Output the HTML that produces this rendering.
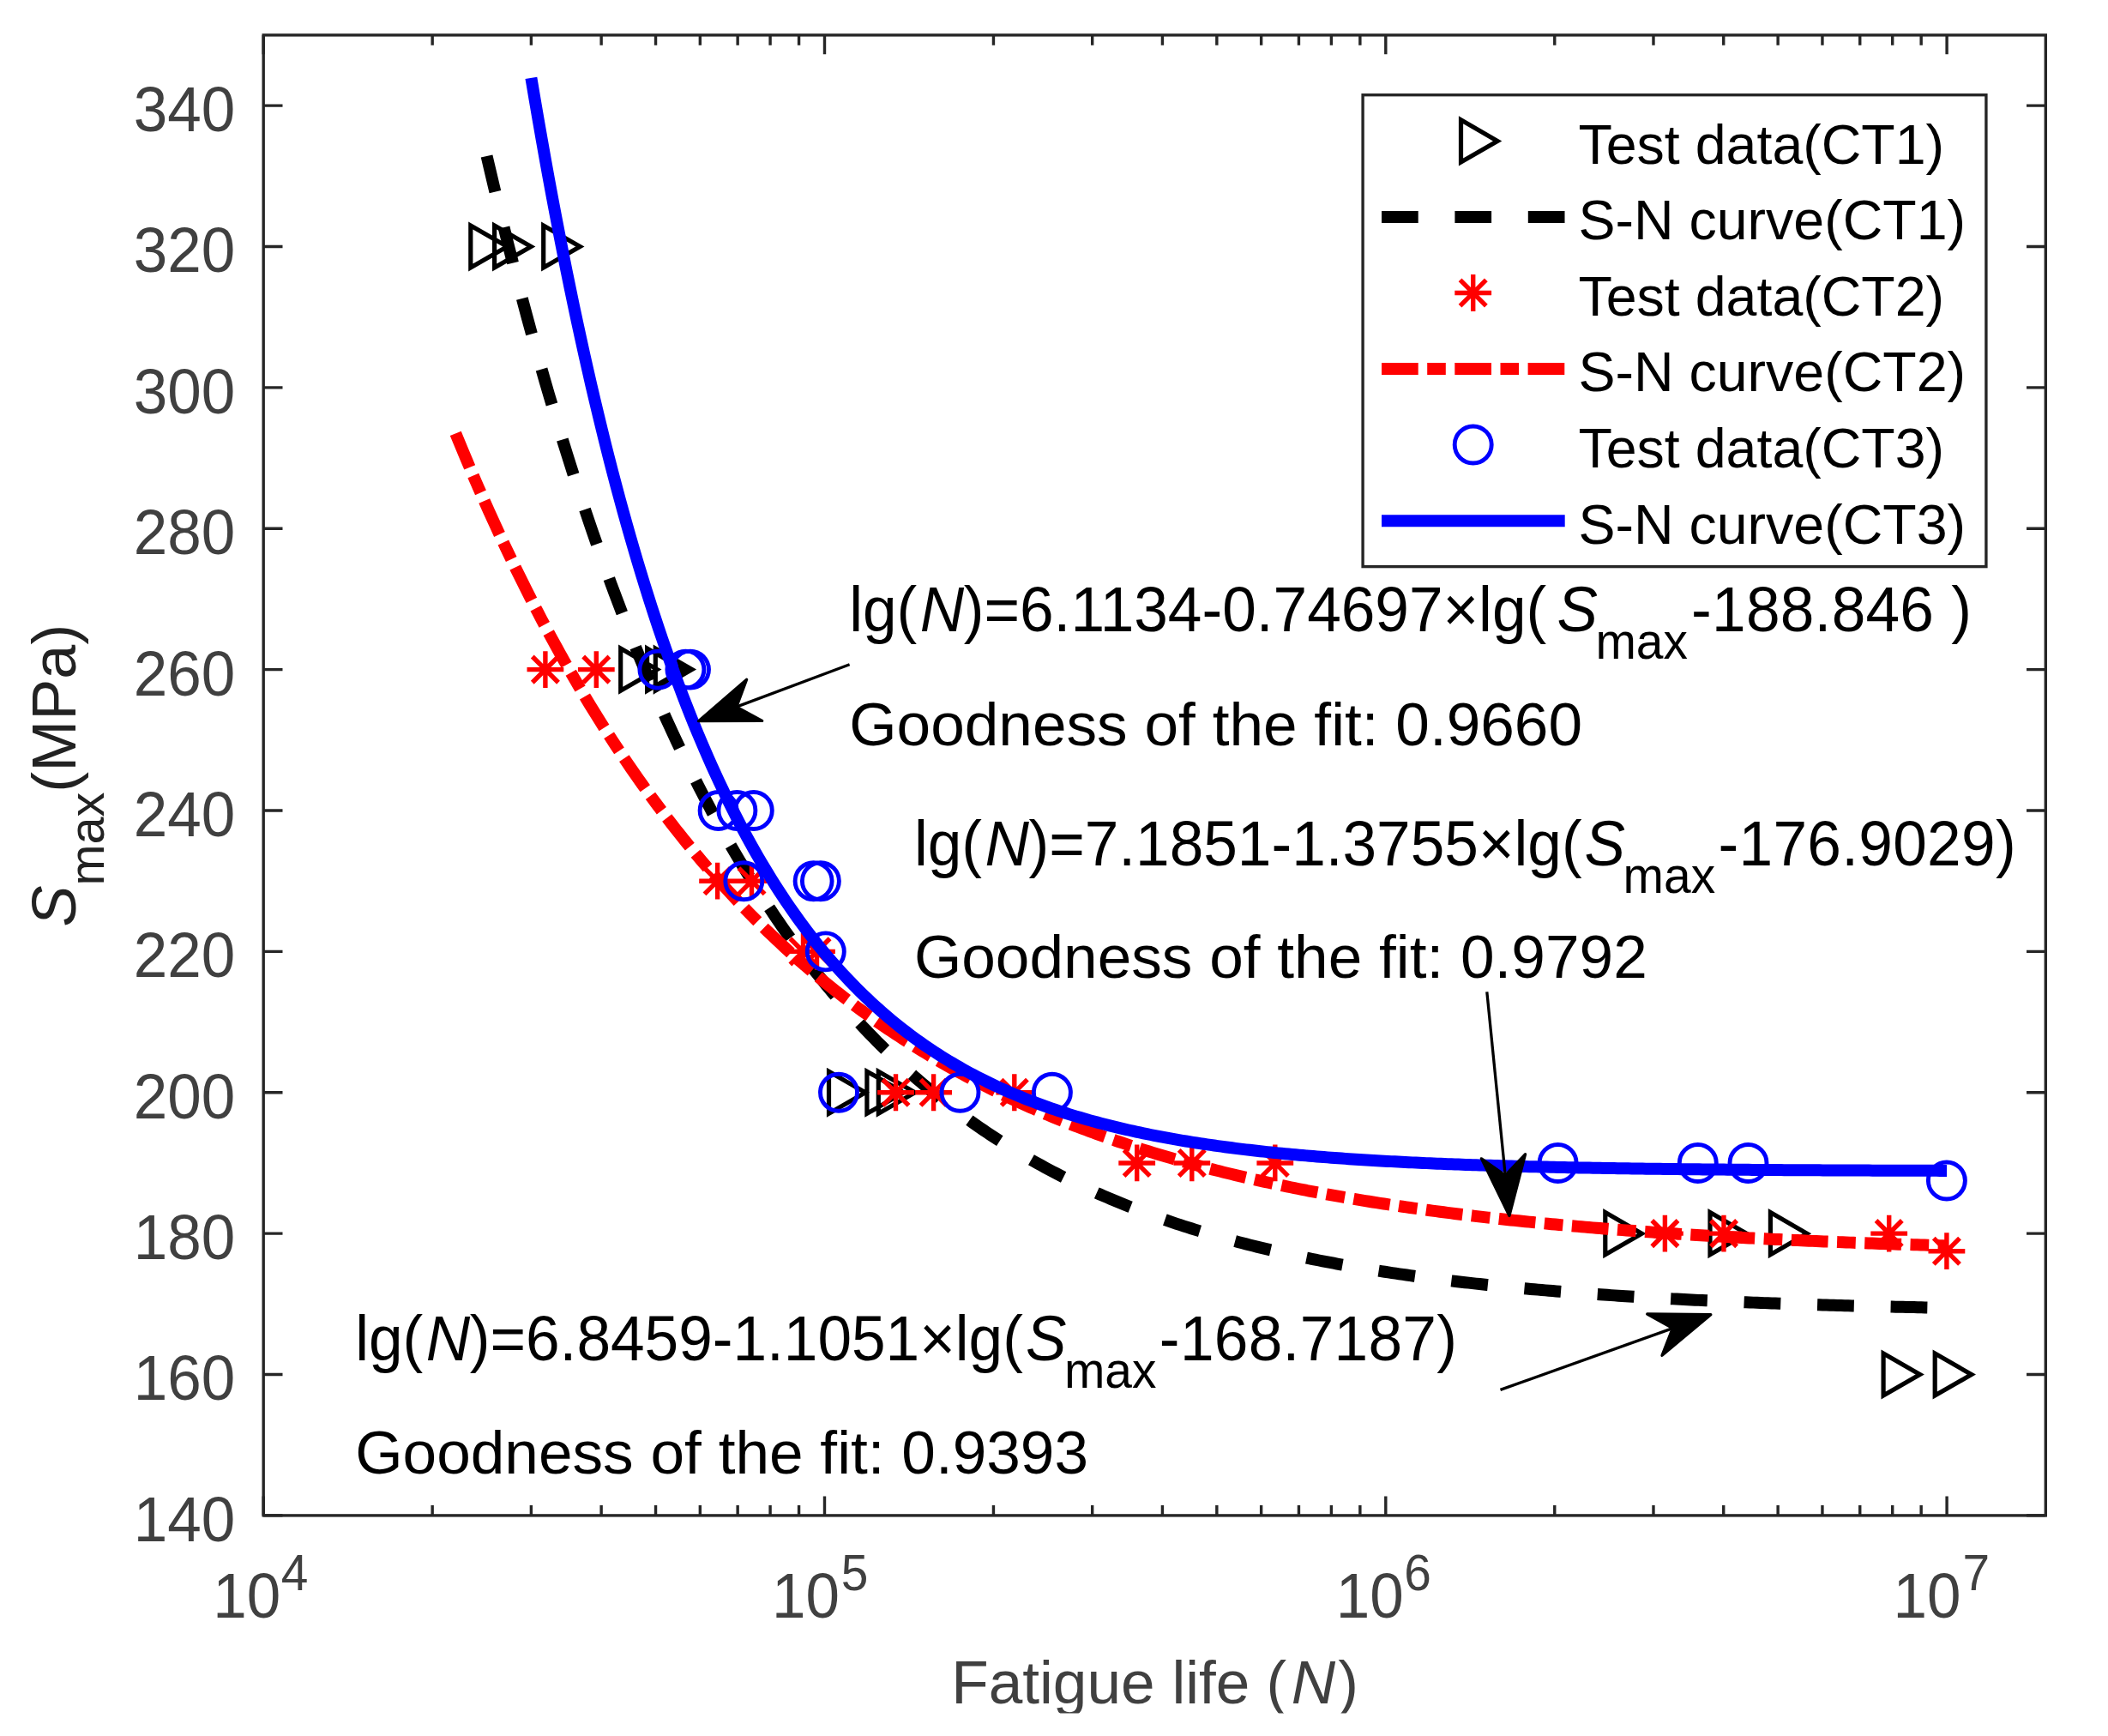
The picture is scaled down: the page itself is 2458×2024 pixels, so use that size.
<!DOCTYPE html>
<html lang="en"><head><meta charset="utf-8"><title>S-N curves</title>
<style>html,body{margin:0;padding:0;background:#fff}svg{display:block}text{font-family:'Liberation Sans', sans-serif}</style></head><body>
<svg width="2458" height="2024" viewBox="0 0 2458 2024">
<rect x="0" y="0" width="2458" height="2024" fill="#fff"/>
<path d="M307.20 1766.90h22.30M2385.30 1766.90h-22.30M307.20 1602.52h22.30M2385.30 1602.52h-22.30M307.20 1438.14h22.30M2385.30 1438.14h-22.30M307.20 1273.76h22.30M2385.30 1273.76h-22.30M307.20 1109.38h22.30M2385.30 1109.38h-22.30M307.20 945.00h22.30M2385.30 945.00h-22.30M307.20 780.61h22.30M2385.30 780.61h-22.30M307.20 616.23h22.30M2385.30 616.23h-22.30M307.20 451.85h22.30M2385.30 451.85h-22.30M307.20 287.47h22.30M2385.30 287.47h-22.30M307.20 123.09h22.30M2385.30 123.09h-22.30M307.20 1766.90v-22.30M307.20 40.90v22.30M504.16 1766.90v-11.90M504.16 40.90v11.90M619.38 1766.90v-11.90M619.38 40.90v11.90M701.13 1766.90v-11.90M701.13 40.90v11.90M764.54 1766.90v-11.90M764.54 40.90v11.90M816.34 1766.90v-11.90M816.34 40.90v11.90M860.15 1766.90v-11.90M860.15 40.90v11.90M898.09 1766.90v-11.90M898.09 40.90v11.90M931.56 1766.90v-11.90M931.56 40.90v11.90M961.50 1766.90v-22.30M961.50 40.90v22.30M1158.46 1766.90v-11.90M1158.46 40.90v11.90M1273.68 1766.90v-11.90M1273.68 40.90v11.90M1355.43 1766.90v-11.90M1355.43 40.90v11.90M1418.84 1766.90v-11.90M1418.84 40.90v11.90M1470.64 1766.90v-11.90M1470.64 40.90v11.90M1514.45 1766.90v-11.90M1514.45 40.90v11.90M1552.39 1766.90v-11.90M1552.39 40.90v11.90M1585.86 1766.90v-11.90M1585.86 40.90v11.90M1615.80 1766.90v-22.30M1615.80 40.90v22.30M1812.76 1766.90v-11.90M1812.76 40.90v11.90M1927.98 1766.90v-11.90M1927.98 40.90v11.90M2009.73 1766.90v-11.90M2009.73 40.90v11.90M2073.14 1766.90v-11.90M2073.14 40.90v11.90M2124.94 1766.90v-11.90M2124.94 40.90v11.90M2168.75 1766.90v-11.90M2168.75 40.90v11.90M2206.69 1766.90v-11.90M2206.69 40.90v11.90M2240.16 1766.90v-11.90M2240.16 40.90v11.90M2270.10 1766.90v-22.30M2270.10 40.90v22.30" stroke="#262626" stroke-width="3.40" fill="none"/>
<g fill="none">
<path d="M548.80 262.88L548.80 312.07L591.40 287.47ZM576.60 262.88L576.60 312.07L619.20 287.47ZM633.70 262.88L633.70 312.07L676.30 287.47ZM723.70 756.02L723.70 805.21L766.30 780.61ZM754.60 756.02L754.60 805.21L797.20 780.61ZM764.30 756.02L764.30 805.21L806.90 780.61ZM966.50 1249.16L966.50 1298.35L1009.10 1273.76ZM1010.90 1249.16L1010.90 1298.35L1053.50 1273.76ZM1024.30 1249.16L1024.30 1298.35L1066.90 1273.76ZM1871.80 1413.54L1871.80 1462.73L1914.40 1438.14ZM1994.00 1413.54L1994.00 1462.73L2036.60 1438.14ZM2064.40 1413.54L2064.40 1462.73L2107.00 1438.14ZM2196.10 1577.92L2196.10 1627.11L2238.70 1602.52ZM2256.20 1577.92L2256.20 1627.11L2298.80 1602.52Z" stroke="#000" stroke-width="5.20" stroke-linejoin="miter" stroke-miterlimit="10"/>
<path d="M567.57 181.99L571.83 200.15L576.08 218.07L580.34 235.74L584.60 253.18L588.85 270.38L593.11 287.35L597.37 304.09L601.62 320.60L605.88 336.90L610.14 352.97L614.39 368.83L618.65 384.47L622.90 399.90L627.16 415.13L631.42 430.15L635.67 444.97L639.93 459.59L644.19 474.01L648.44 488.24L652.70 502.28L656.95 516.12L661.21 529.78L665.47 543.26L669.72 556.56L673.98 569.67L678.24 582.61L682.49 595.38L686.75 607.97L691.01 620.40L695.26 632.66L699.52 644.75L703.77 656.68L708.03 668.45L712.29 680.06L716.54 691.51L720.80 702.81L725.06 713.96L729.31 724.96L733.57 735.81L737.82 746.51L742.08 757.07L746.34 767.49L750.59 777.76L754.85 787.90L759.11 797.90L763.36 807.77L767.62 817.51L771.88 827.11L776.13 836.58L780.39 845.93L784.64 855.15L788.90 864.25L793.16 873.22L797.41 882.08L801.67 890.81L805.93 899.43L810.18 907.93L814.44 916.31L818.70 924.59L822.95 932.75L827.21 940.80L831.46 948.75L835.72 956.58L839.98 964.31L844.23 971.94L848.49 979.47L852.75 986.89L857.00 994.21L861.26 1001.44L865.51 1008.56L869.77 1015.60L874.03 1022.53L878.28 1029.38L882.54 1036.13L886.80 1042.79L891.05 1049.36L895.31 1055.84L899.57 1062.24L903.82 1068.55L908.08 1074.77L912.33 1080.91L916.59 1086.97L920.85 1092.94L925.10 1098.84L929.36 1104.65L933.62 1110.39L937.87 1116.05L942.13 1121.64L946.38 1127.15L950.64 1132.58L954.90 1137.94L959.15 1143.23L963.41 1148.45L967.67 1153.60L971.92 1158.68L976.18 1163.69L980.44 1168.63L984.69 1173.51L988.95 1178.32L993.20 1183.07L997.46 1187.75L1001.72 1192.37L1005.97 1196.92L1010.23 1201.42L1014.49 1205.86L1018.74 1210.23L1023.00 1214.55L1027.25 1218.81L1031.51 1223.01L1035.77 1227.15L1040.02 1231.24L1044.28 1235.27L1048.54 1239.25L1052.79 1243.18L1057.05 1247.05L1061.31 1250.87L1065.56 1254.64L1069.82 1258.36L1074.07 1262.03L1078.33 1265.65L1082.59 1269.22L1086.84 1272.74L1091.10 1276.22L1095.36 1279.64L1099.61 1283.03L1103.87 1286.36L1108.12 1289.65L1112.38 1292.90L1116.64 1296.11L1120.89 1299.27L1125.15 1302.38L1129.41 1305.46L1133.66 1308.49L1137.92 1311.49L1142.18 1314.44L1146.43 1317.35L1150.69 1320.23L1154.94 1323.06L1159.20 1325.86L1163.46 1328.62L1167.71 1331.34L1171.97 1334.03L1176.23 1336.68L1180.48 1339.29L1184.74 1341.87L1188.99 1344.42L1193.25 1346.93L1197.51 1349.40L1201.76 1351.85L1206.02 1354.26L1210.28 1356.63L1214.53 1358.98L1218.79 1361.29L1223.05 1363.58L1227.30 1365.83L1231.56 1368.05L1235.81 1370.24L1240.07 1372.40L1244.33 1374.54L1248.58 1376.64L1252.84 1378.72L1257.10 1380.77L1261.35 1382.79L1265.61 1384.78L1269.86 1386.75L1274.12 1388.69L1278.38 1390.60L1282.63 1392.49L1286.89 1394.35L1291.15 1396.19L1295.40 1398.00L1299.66 1399.79L1303.92 1401.56L1308.17 1403.30L1312.43 1405.01L1316.68 1406.71L1320.94 1408.38L1325.20 1410.03L1329.45 1411.66L1333.71 1413.26L1337.97 1414.84L1342.22 1416.41L1346.48 1417.95L1350.73 1419.47L1354.99 1420.97L1359.25 1422.45L1363.50 1423.91L1367.76 1425.35L1372.02 1426.77L1376.27 1428.17L1380.53 1429.55L1384.79 1430.91L1389.04 1432.26L1393.30 1433.59L1397.55 1434.90L1401.81 1436.19L1406.07 1437.46L1410.32 1438.72L1414.58 1439.96L1418.84 1441.18L1423.09 1442.39L1427.35 1443.58L1431.61 1444.76L1435.86 1445.92L1440.12 1447.06L1444.37 1448.19L1448.63 1449.30L1452.89 1450.40L1457.14 1451.48L1461.40 1452.55L1465.66 1453.61L1469.91 1454.65L1474.17 1455.67L1478.42 1456.68L1482.68 1457.68L1486.94 1458.67L1491.19 1459.64L1495.45 1460.60L1499.71 1461.54L1503.96 1462.48L1508.22 1463.40L1512.48 1464.31L1516.73 1465.20L1520.99 1466.09L1525.24 1466.96L1529.50 1467.82L1533.76 1468.67L1538.01 1469.50L1542.27 1470.33L1546.53 1471.15L1550.78 1471.95L1555.04 1472.74L1559.29 1473.52L1563.55 1474.30L1567.81 1475.06L1572.06 1475.81L1576.32 1476.55L1580.58 1477.28L1584.83 1478.00L1589.09 1478.71L1593.35 1479.42L1597.60 1480.11L1601.86 1480.79L1606.11 1481.47L1610.37 1482.13L1614.63 1482.79L1618.88 1483.43L1623.14 1484.07L1627.40 1484.70L1631.65 1485.32L1635.91 1485.94L1640.16 1486.54L1644.42 1487.14L1648.68 1487.73L1652.93 1488.31L1657.19 1488.88L1661.45 1489.45L1665.70 1490.00L1669.96 1490.55L1674.22 1491.10L1678.47 1491.63L1682.73 1492.16L1686.98 1492.68L1691.24 1493.19L1695.50 1493.70L1699.75 1494.20L1704.01 1494.70L1708.27 1495.18L1712.52 1495.66L1716.78 1496.14L1721.03 1496.60L1725.29 1497.07L1729.55 1497.52L1733.80 1497.97L1738.06 1498.41L1742.32 1498.85L1746.57 1499.28L1750.83 1499.70L1755.09 1500.12L1759.34 1500.54L1763.60 1500.95L1767.85 1501.35L1772.11 1501.75L1776.37 1502.14L1780.62 1502.52L1784.88 1502.91L1789.14 1503.28L1793.39 1503.65L1797.65 1504.02L1801.90 1504.38L1806.16 1504.74L1810.42 1505.09L1814.67 1505.44L1818.93 1505.78L1823.19 1506.12L1827.44 1506.45L1831.70 1506.78L1835.96 1507.10L1840.21 1507.42L1844.47 1507.74L1848.72 1508.05L1852.98 1508.36L1857.24 1508.66L1861.49 1508.96L1865.75 1509.25L1870.01 1509.54L1874.26 1509.83L1878.52 1510.11L1882.77 1510.39L1887.03 1510.67L1891.29 1510.94L1895.54 1511.21L1899.80 1511.47L1904.06 1511.73L1908.31 1511.99L1912.57 1512.25L1916.83 1512.50L1921.08 1512.74L1925.34 1512.99L1929.59 1513.23L1933.85 1513.47L1938.11 1513.70L1942.36 1513.93L1946.62 1514.16L1950.88 1514.38L1955.13 1514.61L1959.39 1514.82L1963.64 1515.04L1967.90 1515.25L1972.16 1515.46L1976.41 1515.67L1980.67 1515.87L1984.93 1516.08L1989.18 1516.28L1993.44 1516.47L1997.70 1516.67L2001.95 1516.86L2006.21 1517.05L2010.46 1517.23L2014.72 1517.41L2018.98 1517.60L2023.23 1517.77L2027.49 1517.95L2031.75 1518.12L2036.00 1518.30L2040.26 1518.46L2044.52 1518.63L2048.77 1518.80L2053.03 1518.96L2057.28 1519.12L2061.54 1519.28L2065.80 1519.43L2070.05 1519.59L2074.31 1519.74L2078.57 1519.89L2082.82 1520.04L2087.08 1520.18L2091.33 1520.33L2095.59 1520.47L2099.85 1520.61L2104.10 1520.75L2108.36 1520.88L2112.62 1521.02L2116.87 1521.15L2121.13 1521.28L2125.39 1521.41L2129.64 1521.54L2133.90 1521.66L2138.15 1521.78L2142.41 1521.91L2146.67 1522.03L2150.92 1522.15L2155.18 1522.26L2159.44 1522.38L2163.69 1522.49L2167.95 1522.61L2172.20 1522.72L2176.46 1522.83L2180.72 1522.93L2184.97 1523.04L2189.23 1523.15L2193.49 1523.25L2197.74 1523.35L2202.00 1523.45L2206.26 1523.55L2210.51 1523.65L2214.77 1523.75L2219.02 1523.84L2223.28 1523.94L2227.54 1524.03L2231.79 1524.12L2236.05 1524.22L2240.31 1524.30L2244.56 1524.39L2248.82 1524.48L2253.07 1524.57L2257.33 1524.65L2261.59 1524.73L2265.84 1524.82L2270.10 1524.90" stroke="#000" stroke-width="14.00" stroke-dasharray="42.75 42.8"/>
<path d="M614.50 780.61H657.30M635.90 759.21V802.01M620.77 765.48L651.03 795.75M620.77 795.75L651.03 765.48M673.90 780.61H716.70M695.30 759.21V802.01M680.17 765.48L710.43 795.75M680.17 795.75L710.43 765.48M815.20 1027.19H858.00M836.60 1005.79V1048.59M821.47 1012.05L851.73 1042.32M821.47 1042.32L851.73 1012.05M855.10 1027.19H897.90M876.50 1005.79V1048.59M861.37 1012.05L891.63 1042.32M861.37 1042.32L891.63 1012.05M915.10 1109.38H957.90M936.50 1087.98V1130.78M921.37 1094.24L951.63 1124.51M921.37 1124.51L951.63 1094.24M931.10 1109.38H973.90M952.50 1087.98V1130.78M937.37 1094.24L967.63 1124.51M937.37 1124.51L967.63 1094.24M1023.10 1273.76H1065.90M1044.50 1252.36V1295.16M1029.37 1258.63L1059.63 1288.89M1029.37 1288.89L1059.63 1258.63M1067.20 1273.76H1110.00M1088.60 1252.36V1295.16M1073.47 1258.63L1103.73 1288.89M1073.47 1288.89L1103.73 1258.63M1161.40 1273.76H1204.20M1182.80 1252.36V1295.16M1167.67 1258.63L1197.93 1288.89M1167.67 1288.89L1197.93 1258.63M1304.30 1355.95H1347.10M1325.70 1334.55V1377.35M1310.57 1340.82L1340.83 1371.08M1310.57 1371.08L1340.83 1340.82M1368.40 1355.95H1411.20M1389.80 1334.55V1377.35M1374.67 1340.82L1404.93 1371.08M1374.67 1371.08L1404.93 1340.82M1465.40 1355.95H1508.20M1486.80 1334.55V1377.35M1471.67 1340.82L1501.93 1371.08M1471.67 1371.08L1501.93 1340.82M1920.00 1438.14H1962.80M1941.40 1416.74V1459.54M1926.27 1423.01L1956.53 1453.27M1926.27 1453.27L1956.53 1423.01M1988.60 1438.14H2031.40M2010.00 1416.74V1459.54M1994.87 1423.01L2025.13 1453.27M1994.87 1453.27L2025.13 1423.01M2181.30 1438.14H2224.10M2202.70 1416.74V1459.54M2187.57 1423.01L2217.83 1453.27M2187.57 1453.27L2217.83 1423.01M2248.50 1458.69H2291.30M2269.90 1437.29V1480.09M2254.77 1443.55L2285.03 1473.82M2254.77 1473.82L2285.03 1443.55" stroke="#f00" stroke-width="5.40"/>
<path d="M531.25 505.36L535.59 515.96L539.94 526.44L544.29 536.80L548.64 547.05L552.98 557.19L557.33 567.22L561.68 577.13L566.02 586.94L570.37 596.63L574.72 606.22L579.07 615.70L583.41 625.08L587.76 634.36L592.11 643.53L596.45 652.60L600.80 661.57L605.15 670.44L609.50 679.21L613.84 687.89L618.19 696.47L622.54 704.95L626.88 713.34L631.23 721.64L635.58 729.85L639.93 737.96L644.27 745.99L648.62 753.92L652.97 761.77L657.31 769.54L661.66 777.21L666.01 784.80L670.36 792.31L674.70 799.74L679.05 807.08L683.40 814.34L687.74 821.52L692.09 828.62L696.44 835.64L700.79 842.59L705.13 849.46L709.48 856.25L713.83 862.97L718.17 869.61L722.52 876.18L726.87 882.68L731.22 889.10L735.56 895.46L739.91 901.74L744.26 907.96L748.60 914.10L752.95 920.18L757.30 926.19L761.65 932.13L765.99 938.01L770.34 943.82L774.69 949.57L779.03 955.26L783.38 960.88L787.73 966.44L792.08 971.94L796.42 977.38L800.77 982.75L805.12 988.07L809.46 993.33L813.81 998.53L818.16 1003.68L822.51 1008.76L826.85 1013.79L831.20 1018.77L835.55 1023.69L839.89 1028.56L844.24 1033.37L848.59 1038.13L852.93 1042.83L857.28 1047.48L861.63 1052.09L865.98 1056.64L870.32 1061.14L874.67 1065.59L879.02 1069.99L883.36 1074.35L887.71 1078.65L892.06 1082.91L896.41 1087.12L900.75 1091.28L905.10 1095.40L909.45 1099.47L913.79 1103.50L918.14 1107.48L922.49 1111.42L926.84 1115.32L931.18 1119.17L935.53 1122.98L939.88 1126.75L944.22 1130.47L948.57 1134.16L952.92 1137.80L957.27 1141.40L961.61 1144.97L965.96 1148.49L970.31 1151.98L974.65 1155.42L979.00 1158.83L983.35 1162.20L987.70 1165.54L992.04 1168.83L996.39 1172.09L1000.74 1175.32L1005.08 1178.50L1009.43 1181.66L1013.78 1184.78L1018.13 1187.86L1022.47 1190.91L1026.82 1193.93L1031.17 1196.91L1035.51 1199.86L1039.86 1202.78L1044.21 1205.66L1048.56 1208.51L1052.90 1211.33L1057.25 1214.12L1061.60 1216.88L1065.94 1219.61L1070.29 1222.31L1074.64 1224.98L1078.99 1227.62L1083.33 1230.23L1087.68 1232.81L1092.03 1235.36L1096.37 1237.89L1100.72 1240.38L1105.07 1242.85L1109.42 1245.29L1113.76 1247.71L1118.11 1250.10L1122.46 1252.46L1126.80 1254.79L1131.15 1257.10L1135.50 1259.38L1139.85 1261.64L1144.19 1263.88L1148.54 1266.09L1152.89 1268.27L1157.23 1270.43L1161.58 1272.57L1165.93 1274.68L1170.28 1276.77L1174.62 1278.84L1178.97 1280.88L1183.32 1282.90L1187.66 1284.90L1192.01 1286.88L1196.36 1288.83L1200.71 1290.76L1205.05 1292.67L1209.40 1294.56L1213.75 1296.43L1218.09 1298.28L1222.44 1300.11L1226.79 1301.92L1231.14 1303.71L1235.48 1305.48L1239.83 1307.23L1244.18 1308.95L1248.52 1310.66L1252.87 1312.36L1257.22 1314.03L1261.57 1315.68L1265.91 1317.32L1270.26 1318.94L1274.61 1320.54L1278.95 1322.12L1283.30 1323.68L1287.65 1325.23L1292.00 1326.76L1296.34 1328.28L1300.69 1329.77L1305.04 1331.25L1309.38 1332.72L1313.73 1334.16L1318.08 1335.59L1322.43 1337.01L1326.77 1338.41L1331.12 1339.80L1335.47 1341.16L1339.81 1342.52L1344.16 1343.86L1348.51 1345.18L1352.86 1346.49L1357.20 1347.79L1361.55 1349.07L1365.90 1350.33L1370.24 1351.59L1374.59 1352.83L1378.94 1354.05L1383.29 1355.26L1387.63 1356.46L1391.98 1357.65L1396.33 1358.82L1400.67 1359.98L1405.02 1361.12L1409.37 1362.26L1413.71 1363.38L1418.06 1364.48L1422.41 1365.58L1426.76 1366.67L1431.10 1367.74L1435.45 1368.80L1439.80 1369.85L1444.14 1370.88L1448.49 1371.91L1452.84 1372.92L1457.19 1373.93L1461.53 1374.92L1465.88 1375.90L1470.23 1376.87L1474.57 1377.83L1478.92 1378.78L1483.27 1379.71L1487.62 1380.64L1491.96 1381.56L1496.31 1382.47L1500.66 1383.36L1505.00 1384.25L1509.35 1385.13L1513.70 1386.00L1518.05 1386.85L1522.39 1387.70L1526.74 1388.54L1531.09 1389.37L1535.43 1390.19L1539.78 1391.01L1544.13 1391.81L1548.48 1392.60L1552.82 1393.39L1557.17 1394.16L1561.52 1394.93L1565.86 1395.69L1570.21 1396.44L1574.56 1397.18L1578.91 1397.92L1583.25 1398.65L1587.60 1399.36L1591.95 1400.07L1596.29 1400.78L1600.64 1401.47L1604.99 1402.16L1609.34 1402.84L1613.68 1403.51L1618.03 1404.17L1622.38 1404.83L1626.72 1405.48L1631.07 1406.12L1635.42 1406.76L1639.77 1407.39L1644.11 1408.01L1648.46 1408.63L1652.81 1409.23L1657.15 1409.83L1661.50 1410.43L1665.85 1411.02L1670.20 1411.60L1674.54 1412.17L1678.89 1412.74L1683.24 1413.30L1687.58 1413.86L1691.93 1414.41L1696.28 1414.96L1700.63 1415.49L1704.97 1416.03L1709.32 1416.55L1713.67 1417.07L1718.01 1417.59L1722.36 1418.09L1726.71 1418.60L1731.06 1419.10L1735.40 1419.59L1739.75 1420.07L1744.10 1420.56L1748.44 1421.03L1752.79 1421.50L1757.14 1421.97L1761.49 1422.43L1765.83 1422.88L1770.18 1423.33L1774.53 1423.78L1778.87 1424.22L1783.22 1424.66L1787.57 1425.09L1791.92 1425.51L1796.26 1425.93L1800.61 1426.35L1804.96 1426.76L1809.30 1427.17L1813.65 1427.57L1818.00 1427.97L1822.35 1428.36L1826.69 1428.75L1831.04 1429.14L1835.39 1429.52L1839.73 1429.90L1844.08 1430.27L1848.43 1430.64L1852.78 1431.00L1857.12 1431.36L1861.47 1431.72L1865.82 1432.07L1870.16 1432.42L1874.51 1432.77L1878.86 1433.11L1883.21 1433.44L1887.55 1433.78L1891.90 1434.11L1896.25 1434.43L1900.59 1434.76L1904.94 1435.07L1909.29 1435.39L1913.64 1435.70L1917.98 1436.01L1922.33 1436.32L1926.68 1436.62L1931.02 1436.92L1935.37 1437.21L1939.72 1437.50L1944.07 1437.79L1948.41 1438.08L1952.76 1438.36L1957.11 1438.64L1961.45 1438.91L1965.80 1439.19L1970.15 1439.46L1974.50 1439.72L1978.84 1439.99L1983.19 1440.25L1987.54 1440.51L1991.88 1440.76L1996.23 1441.01L2000.58 1441.26L2004.92 1441.51L2009.27 1441.76L2013.62 1442.00L2017.97 1442.24L2022.31 1442.47L2026.66 1442.71L2031.01 1442.94L2035.35 1443.17L2039.70 1443.39L2044.05 1443.61L2048.40 1443.84L2052.74 1444.05L2057.09 1444.27L2061.44 1444.48L2065.78 1444.70L2070.13 1444.90L2074.48 1445.11L2078.83 1445.32L2083.17 1445.52L2087.52 1445.72L2091.87 1445.92L2096.21 1446.11L2100.56 1446.30L2104.91 1446.50L2109.26 1446.68L2113.60 1446.87L2117.95 1447.06L2122.30 1447.24L2126.64 1447.42L2130.99 1447.60L2135.34 1447.78L2139.69 1447.95L2144.03 1448.12L2148.38 1448.30L2152.73 1448.46L2157.07 1448.63L2161.42 1448.80L2165.77 1448.96L2170.12 1449.12L2174.46 1449.28L2178.81 1449.44L2183.16 1449.60L2187.50 1449.75L2191.85 1449.91L2196.20 1450.06L2200.55 1450.21L2204.89 1450.35L2209.24 1450.50L2213.59 1450.65L2217.93 1450.79L2222.28 1450.93L2226.63 1451.07L2230.98 1451.21L2235.32 1451.35L2239.67 1451.48L2244.02 1451.62L2248.36 1451.75L2252.71 1451.88L2257.06 1452.01L2261.41 1452.14L2265.75 1452.26L2270.10 1452.39" stroke="#f00" stroke-width="14.00" stroke-dasharray="42.8 10.5 21.7 10.5"/>
<circle cx="767.40" cy="780.61" r="21.50" stroke="#00f" stroke-width="4.90"/>
<circle cx="799.40" cy="780.61" r="21.50" stroke="#00f" stroke-width="4.90"/>
<circle cx="805.00" cy="780.61" r="21.50" stroke="#00f" stroke-width="4.90"/>
<circle cx="837.60" cy="945.00" r="21.50" stroke="#00f" stroke-width="4.90"/>
<circle cx="859.40" cy="945.00" r="21.50" stroke="#00f" stroke-width="4.90"/>
<circle cx="878.80" cy="945.00" r="21.50" stroke="#00f" stroke-width="4.90"/>
<circle cx="867.30" cy="1027.19" r="21.50" stroke="#00f" stroke-width="4.90"/>
<circle cx="948.60" cy="1027.19" r="21.50" stroke="#00f" stroke-width="4.90"/>
<circle cx="956.90" cy="1027.19" r="21.50" stroke="#00f" stroke-width="4.90"/>
<circle cx="962.80" cy="1109.38" r="21.50" stroke="#00f" stroke-width="4.90"/>
<circle cx="978.00" cy="1273.76" r="21.50" stroke="#00f" stroke-width="4.90"/>
<circle cx="1119.50" cy="1273.76" r="21.50" stroke="#00f" stroke-width="4.90"/>
<circle cx="1226.90" cy="1273.76" r="21.50" stroke="#00f" stroke-width="4.90"/>
<circle cx="1816.60" cy="1355.95" r="21.50" stroke="#00f" stroke-width="4.90"/>
<circle cx="1979.80" cy="1355.95" r="21.50" stroke="#00f" stroke-width="4.90"/>
<circle cx="2038.50" cy="1355.95" r="21.50" stroke="#00f" stroke-width="4.90"/>
<circle cx="2269.90" cy="1376.50" r="21.50" stroke="#00f" stroke-width="4.90"/>
<path d="M619.38 90.83L623.51 115.37L627.63 139.44L631.76 163.04L635.89 186.19L640.01 208.90L644.14 231.17L648.27 253.01L652.39 274.43L656.52 295.43L660.65 316.04L664.78 336.24L668.90 356.06L673.03 375.49L677.16 394.55L681.28 413.25L685.41 431.58L689.54 449.56L693.66 467.20L697.79 484.49L701.92 501.46L706.04 518.09L710.17 534.41L714.30 550.41L718.42 566.10L722.55 581.49L726.68 596.59L730.80 611.39L734.93 625.91L739.06 640.15L743.18 654.11L747.31 667.81L751.44 681.24L755.56 694.41L759.69 707.33L763.82 720.01L767.95 732.43L772.07 744.62L776.20 756.58L780.33 768.30L784.45 779.80L788.58 791.07L792.71 802.13L796.83 812.98L800.96 823.61L805.09 834.05L809.21 844.28L813.34 854.31L817.47 864.15L821.59 873.81L825.72 883.27L829.85 892.56L833.97 901.66L838.10 910.59L842.23 919.35L846.35 927.94L850.48 936.36L854.61 944.62L858.73 952.73L862.86 960.67L866.99 968.47L871.12 976.11L875.24 983.61L879.37 990.96L883.50 998.17L887.62 1005.24L891.75 1012.17L895.88 1018.98L900.00 1025.65L904.13 1032.19L908.26 1038.61L912.38 1044.90L916.51 1051.07L920.64 1057.12L924.76 1063.06L928.89 1068.88L933.02 1074.59L937.14 1080.19L941.27 1085.68L945.40 1091.07L949.52 1096.35L953.65 1101.53L957.78 1106.62L961.90 1111.60L966.03 1116.49L970.16 1121.28L974.29 1125.98L978.41 1130.59L982.54 1135.11L986.67 1139.55L990.79 1143.90L994.92 1148.16L999.05 1152.35L1003.17 1156.45L1007.30 1160.47L1011.43 1164.42L1015.55 1168.29L1019.68 1172.09L1023.81 1175.81L1027.93 1179.46L1032.06 1183.04L1036.19 1186.55L1040.31 1190.00L1044.44 1193.37L1048.57 1196.69L1052.69 1199.94L1056.82 1203.12L1060.95 1206.25L1065.07 1209.31L1069.20 1212.32L1073.33 1215.27L1077.46 1218.16L1081.58 1220.99L1085.71 1223.78L1089.84 1226.50L1093.96 1229.18L1098.09 1231.80L1102.22 1234.37L1106.34 1236.90L1110.47 1239.37L1114.60 1241.80L1118.72 1244.18L1122.85 1246.52L1126.98 1248.81L1131.10 1251.05L1135.23 1253.25L1139.36 1255.41L1143.48 1257.53L1147.61 1259.61L1151.74 1261.65L1155.86 1263.64L1159.99 1265.60L1164.12 1267.53L1168.24 1269.41L1172.37 1271.26L1176.50 1273.07L1180.63 1274.85L1184.75 1276.60L1188.88 1278.31L1193.01 1279.98L1197.13 1281.63L1201.26 1283.24L1205.39 1284.83L1209.51 1286.38L1213.64 1287.90L1217.77 1289.39L1221.89 1290.86L1226.02 1292.29L1230.15 1293.70L1234.27 1295.08L1238.40 1296.44L1242.53 1297.77L1246.65 1299.07L1250.78 1300.35L1254.91 1301.60L1259.03 1302.83L1263.16 1304.03L1267.29 1305.22L1271.41 1306.38L1275.54 1307.51L1279.67 1308.63L1283.80 1309.72L1287.92 1310.79L1292.05 1311.85L1296.18 1312.88L1300.30 1313.89L1304.43 1314.88L1308.56 1315.86L1312.68 1316.81L1316.81 1317.75L1320.94 1318.66L1325.06 1319.57L1329.19 1320.45L1333.32 1321.31L1337.44 1322.16L1341.57 1323.00L1345.70 1323.81L1349.82 1324.62L1353.95 1325.40L1358.08 1326.17L1362.20 1326.93L1366.33 1327.67L1370.46 1328.40L1374.58 1329.11L1378.71 1329.81L1382.84 1330.50L1386.97 1331.17L1391.09 1331.83L1395.22 1332.47L1399.35 1333.11L1403.47 1333.73L1407.60 1334.34L1411.73 1334.94L1415.85 1335.53L1419.98 1336.10L1424.11 1336.67L1428.23 1337.22L1432.36 1337.77L1436.49 1338.30L1440.61 1338.82L1444.74 1339.33L1448.87 1339.84L1452.99 1340.33L1457.12 1340.81L1461.25 1341.29L1465.37 1341.75L1469.50 1342.21L1473.63 1342.65L1477.75 1343.09L1481.88 1343.52L1486.01 1343.94L1490.14 1344.36L1494.26 1344.76L1498.39 1345.16L1502.52 1345.55L1506.64 1345.93L1510.77 1346.31L1514.90 1346.68L1519.02 1347.04L1523.15 1347.39L1527.28 1347.74L1531.40 1348.08L1535.53 1348.42L1539.66 1348.74L1543.78 1349.06L1547.91 1349.38L1552.04 1349.69L1556.16 1349.99L1560.29 1350.29L1564.42 1350.58L1568.54 1350.87L1572.67 1351.15L1576.80 1351.42L1580.92 1351.69L1585.05 1351.96L1589.18 1352.22L1593.30 1352.47L1597.43 1352.72L1601.56 1352.97L1605.69 1353.21L1609.81 1353.44L1613.94 1353.67L1618.07 1353.90L1622.19 1354.12L1626.32 1354.34L1630.45 1354.55L1634.57 1354.76L1638.70 1354.97L1642.83 1355.17L1646.95 1355.37L1651.08 1355.56L1655.21 1355.75L1659.33 1355.94L1663.46 1356.12L1667.59 1356.30L1671.71 1356.47L1675.84 1356.65L1679.97 1356.82L1684.09 1356.98L1688.22 1357.14L1692.35 1357.30L1696.47 1357.46L1700.60 1357.61L1704.73 1357.76L1708.86 1357.91L1712.98 1358.06L1717.11 1358.20L1721.24 1358.34L1725.36 1358.47L1729.49 1358.61L1733.62 1358.74L1737.74 1358.87L1741.87 1359.00L1746.00 1359.12L1750.12 1359.24L1754.25 1359.36L1758.38 1359.48L1762.50 1359.59L1766.63 1359.70L1770.76 1359.81L1774.88 1359.92L1779.01 1360.03L1783.14 1360.13L1787.26 1360.23L1791.39 1360.33L1795.52 1360.43L1799.64 1360.53L1803.77 1360.62L1807.90 1360.72L1812.03 1360.81L1816.15 1360.90L1820.28 1360.98L1824.41 1361.07L1828.53 1361.15L1832.66 1361.24L1836.79 1361.32L1840.91 1361.40L1845.04 1361.47L1849.17 1361.55L1853.29 1361.62L1857.42 1361.70L1861.55 1361.77L1865.67 1361.84L1869.80 1361.91L1873.93 1361.98L1878.05 1362.04L1882.18 1362.11L1886.31 1362.17L1890.43 1362.24L1894.56 1362.30L1898.69 1362.36L1902.81 1362.42L1906.94 1362.47L1911.07 1362.53L1915.20 1362.59L1919.32 1362.64L1923.45 1362.70L1927.58 1362.75L1931.70 1362.80L1935.83 1362.85L1939.96 1362.90L1944.08 1362.95L1948.21 1363.00L1952.34 1363.04L1956.46 1363.09L1960.59 1363.14L1964.72 1363.18L1968.84 1363.22L1972.97 1363.27L1977.10 1363.31L1981.22 1363.35L1985.35 1363.39L1989.48 1363.43L1993.60 1363.47L1997.73 1363.50L2001.86 1363.54L2005.98 1363.58L2010.11 1363.61L2014.24 1363.65L2018.37 1363.68L2022.49 1363.72L2026.62 1363.75L2030.75 1363.78L2034.87 1363.81L2039.00 1363.84L2043.13 1363.88L2047.25 1363.91L2051.38 1363.93L2055.51 1363.96L2059.63 1363.99L2063.76 1364.02L2067.89 1364.05L2072.01 1364.07L2076.14 1364.10L2080.27 1364.13L2084.39 1364.15L2088.52 1364.18L2092.65 1364.20L2096.77 1364.22L2100.90 1364.25L2105.03 1364.27L2109.15 1364.29L2113.28 1364.31L2117.41 1364.34L2121.54 1364.36L2125.66 1364.38L2129.79 1364.40L2133.92 1364.42L2138.04 1364.44L2142.17 1364.46L2146.30 1364.47L2150.42 1364.49L2154.55 1364.51L2158.68 1364.53L2162.80 1364.55L2166.93 1364.56L2171.06 1364.58L2175.18 1364.60L2179.31 1364.61L2183.44 1364.63L2187.56 1364.64L2191.69 1364.66L2195.82 1364.67L2199.94 1364.69L2204.07 1364.70L2208.20 1364.72L2212.32 1364.73L2216.45 1364.74L2220.58 1364.76L2224.71 1364.77L2228.83 1364.78L2232.96 1364.80L2237.09 1364.81L2241.21 1364.82L2245.34 1364.83L2249.47 1364.84L2253.59 1364.85L2257.72 1364.87L2261.85 1364.88L2265.97 1364.89L2270.10 1364.90" stroke="#00f" stroke-width="14.00"/>
</g>
<rect x="307.20" y="40.90" width="2078.10" height="1726.00" fill="none" stroke="#262626" stroke-width="3.40"/>
<g fill="#404040" font-size="71.0">
<text transform="translate(274.3 1796.8) scale(1 1.04)" text-anchor="end">140</text>
<text transform="translate(274.3 1632.4) scale(1 1.04)" text-anchor="end">160</text>
<text transform="translate(274.3 1468.0) scale(1 1.04)" text-anchor="end">180</text>
<text transform="translate(274.3 1303.7) scale(1 1.04)" text-anchor="end">200</text>
<text transform="translate(274.3 1139.3) scale(1 1.04)" text-anchor="end">220</text>
<text transform="translate(274.3 974.9) scale(1 1.04)" text-anchor="end">240</text>
<text transform="translate(274.3 810.5) scale(1 1.04)" text-anchor="end">260</text>
<text transform="translate(274.3 646.1) scale(1 1.04)" text-anchor="end">280</text>
<text transform="translate(274.3 481.8) scale(1 1.04)" text-anchor="end">300</text>
<text transform="translate(274.3 317.4) scale(1 1.04)" text-anchor="end">320</text>
<text transform="translate(274.3 153.0) scale(1 1.04)" text-anchor="end">340</text>
<text transform="translate(248.2 1885.6) scale(1 1.04)">10<tspan font-size="56.8" dy="-30.6" dx="0.7">4</tspan></text>
<text transform="translate(900.0 1885.6) scale(1 1.04)">10<tspan font-size="56.8" dy="-30.6" dx="1.7">5</tspan></text>
<text transform="translate(1557.8 1885.6) scale(1 1.04)">10<tspan font-size="56.8" dy="-30.6" dx="0.5">6</tspan></text>
<text transform="translate(2207.4 1885.6) scale(1 1.04)">10<tspan font-size="56.8" dy="-30.6" dx="2.2">7</tspan></text>
</g>
<g fill="#404040" font-size="72.0">
<text x="1109.2" y="1985.9" font-size="71.2">Fatigue life <tspan x="1476.6">(</tspan><tspan font-style="italic" dx="5.5">N</tspan><tspan dx="3">)</tspan></text>
<text transform="translate(87.9 904.2) rotate(-90)" text-anchor="middle" fill="#222"><tspan font-style="italic">S</tspan><tspan font-size="57.6" dy="32.8">max</tspan><tspan dy="-32.8">(MPa)</tspan></text>
</g>
<rect x="0" y="1997.5" width="2458" height="30" fill="#fff"/>
<rect x="1589.10" y="110.70" width="726.80" height="549.90" fill="#fff" stroke="#262626" stroke-width="3.40"/>
<g fill="none">
<path d="M1703.50 139.80L1703.50 189.00L1746.10 164.40Z" stroke="#000" stroke-width="5.20"/>
<path d="M1611.00 252.90H1824.70" stroke="#000" stroke-width="14.00" stroke-dasharray="42.7 42.7"/>
<path d="M1696.30 341.50H1739.10M1717.70 320.10V362.90M1702.57 326.37L1732.83 356.63M1702.57 356.63L1732.83 326.37" stroke="#f00" stroke-width="5.40"/>
<path d="M1611.00 429.90H1824.70" stroke="#f00" stroke-width="14.00" stroke-dasharray="42.7 10.5 21.6 10.5"/>
<circle cx="1717.70" cy="518.50" r="21.50" stroke="#00f" stroke-width="4.90"/>
<path d="M1611.00 607.20H1824.70" stroke="#00f" stroke-width="14.00"/>
</g>
<g fill="#000" font-size="64.5">
<text x="1840.5" y="190.7">Test data(CT1)</text>
<text x="1840.5" y="279.2">S-N curve(CT1)</text>
<text x="1840.5" y="367.8">Test data(CT2)</text>
<text x="1840.5" y="456.2">S-N curve(CT2)</text>
<text x="1840.5" y="544.8">Test data(CT3)</text>
<text x="1840.5" y="633.5">S-N curve(CT3)</text>
</g>
<g fill="#000" font-size="71.2">
<text transform="translate(990.2 736.3) scale(1 1.03)">lg(<tspan font-style="italic" dx="3.5">N</tspan><tspan dx="-0.5" letter-spacing="0.00">)=6.1134-0.74697×lg(</tspan><tspan font-style="italic" dx="12.2">S</tspan><tspan font-size="56.9" dy="31" dx="-2.5">max</tspan><tspan dy="-31" dx="4.2" letter-spacing="0.26">-188.846 )</tspan></text>
<text x="990.2" y="869.1">Goodness of the fit: 0.9660</text>
<text transform="translate(1065.9 1008.6) scale(1 1.03)">lg(<tspan font-style="italic" dx="3.5">N</tspan><tspan dx="-0.5" letter-spacing="0.00">)=7.1851-1.3755×lg(</tspan><tspan font-style="italic" dx="3.0">S</tspan><tspan font-size="56.9" dy="31" dx="-2.5">max</tspan><tspan dy="-31" dx="3.5" letter-spacing="0.30">-176.9029)</tspan></text>
<text x="1065.9" y="1140.1">Goodness of the fit: 0.9792</text>
<text transform="translate(414.2 1586.3) scale(1 1.03)">lg(<tspan font-style="italic" dx="3.5">N</tspan><tspan dx="-0.5" letter-spacing="0.00">)=6.8459-1.1051×lg(</tspan><tspan font-style="italic" dx="3.0">S</tspan><tspan font-size="56.9" dy="31" dx="-2.5">max</tspan><tspan dy="-31" dx="3.5" letter-spacing="0.30">-168.7187)</tspan></text>
<text x="414.2" y="1718.4">Goodness of the fit: 0.9393</text>
</g>
<path d="M990.60 774.70L858.79 824.13" stroke="#000" stroke-width="3.30" fill="none"/><path d="M814.54 840.72L870.64 792.24L858.79 824.13L888.69 840.36 Z" fill="#000" stroke="#000" stroke-width="3.30" stroke-linejoin="round"/>
<path d="M1733.80 1156.40L1755.23 1370.44" stroke="#000" stroke-width="3.30" fill="none"/><path d="M1759.94 1417.46L1727.44 1350.81L1755.23 1370.44L1778.58 1345.69 Z" fill="#000" stroke="#000" stroke-width="3.30" stroke-linejoin="round"/>
<path d="M1749.50 1620.40L1950.35 1548.65" stroke="#000" stroke-width="3.30" fill="none"/><path d="M1994.85 1532.76L1938.00 1580.35L1950.35 1548.65L1920.70 1531.95 Z" fill="#000" stroke="#000" stroke-width="3.30" stroke-linejoin="round"/>
</svg></body></html>
